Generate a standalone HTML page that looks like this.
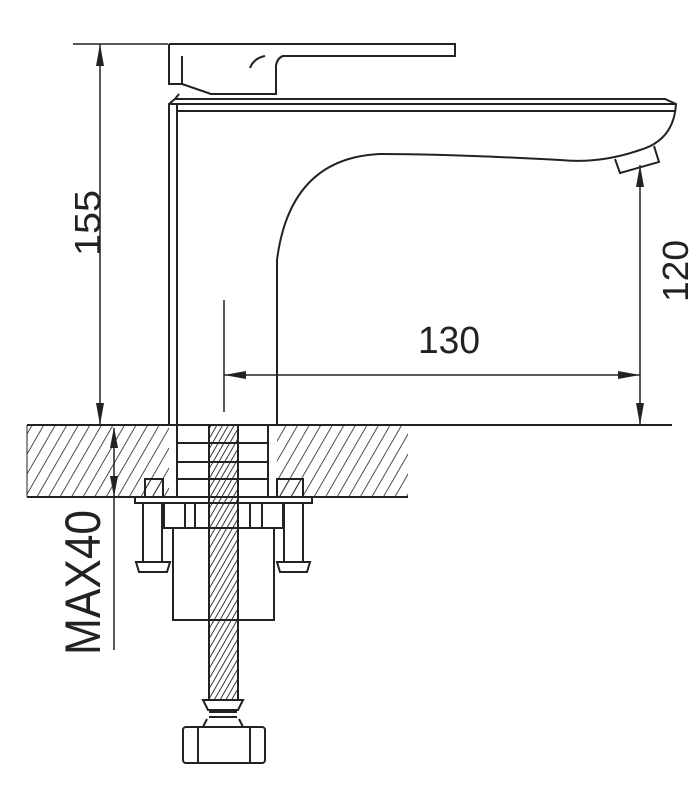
<!DOCTYPE html>
<html><head><meta charset="utf-8"><style>
html,body{margin:0;padding:0;background:#fff;}
svg{display:block;}
text{font-family:"Liberation Sans",sans-serif;fill:#222;}
</style></head><body>
<svg width="700" height="787" viewBox="0 0 700 787" xmlns="http://www.w3.org/2000/svg">
<defs>
<pattern id="h" patternUnits="userSpaceOnUse" width="10" height="10" patternTransform="rotate(30)">
<line x1="0" y1="0" x2="0" y2="10" stroke="#222" stroke-width="1.6"/>
</pattern>
<pattern id="t" patternUnits="userSpaceOnUse" width="5" height="5" patternTransform="rotate(30)">
<line x1="0" y1="0" x2="0" y2="5" stroke="#222" stroke-width="1.8"/>
</pattern>
</defs>
<g fill="none" stroke="#222" stroke-width="2">
<!-- counter hatch -->
<rect x="27" y="425" width="142" height="72" fill="url(#h)" stroke="none"/>
<rect x="277" y="425" width="131" height="72" fill="url(#h)" stroke="none"/>
<line x1="27" y1="425" x2="672" y2="425"/>
<line x1="27" y1="497" x2="408" y2="497"/>
<line x1="27" y1="425" x2="27" y2="497" stroke-width="1"/>
<!-- handle -->
<path d="M169 44 H455 V56 H283 Q277 58 276 66 V94 H211 L182 84 V56 M169 44 V84 L182 84"/>
<path d="M250 68 Q254 58 265 56"/>
<line x1="179" y1="94" x2="175" y2="99"/>
<!-- body -->
<path d="M169 425 V104 L175 99 H665 L676 104 Q674 140 640 150 Q600 164 560 160 Q450 154 380 154 Q290 158 277 260 V425"/>
<line x1="169" y1="104" x2="676" y2="104"/>
<line x1="177" y1="111" x2="675" y2="111"/>
<line x1="177" y1="104" x2="177" y2="425"/>
<path d="M615 159 L620 173 L659 162 L654 146"/>
<!-- under counter -->
<line x1="177" y1="443" x2="268" y2="443"/>
<line x1="177" y1="462" x2="268" y2="462"/>
<line x1="177" y1="479" x2="268" y2="479"/>
<line x1="177" y1="425" x2="177" y2="497"/>
<line x1="268" y1="425" x2="268" y2="497"/>
<rect x="145" y="479" width="18" height="18" fill="url(#h)"/>
<rect x="277" y="479" width="26" height="18" fill="url(#h)"/>
<rect x="135" y="497" width="177" height="6"/>
<rect x="164" y="503" width="119" height="25"/>
<line x1="185" y1="503" x2="185" y2="528"/><line x1="195" y1="503" x2="195" y2="528"/>
<line x1="250" y1="503" x2="250" y2="528"/><line x1="262" y1="503" x2="262" y2="528"/>
<rect x="173" y="528" width="101" height="92"/>
<path d="M143 503 V562 M162 503 V562 M136 562 H170 L167 572 H139 Z"/>
<path d="M284 503 V562 M303 503 V562 M277 562 H310 L307 572 H280 Z"/>
<!-- rod -->
<rect x="209" y="425" width="29" height="275" fill="url(#t)"/>
<path d="M203 700 H243 L238 710 H208 Z"/>
<path d="M209 712 H237 M209 717 H237 M207 719 L203 727 M239 719 L243 727"/>
<rect x="183" y="727" width="82" height="36" rx="3"/>
<line x1="198" y1="727" x2="198" y2="763"/><line x1="250" y1="727" x2="250" y2="763"/>
<!-- dimensions -->
<g stroke-width="1.5">
<line x1="73" y1="44" x2="168" y2="44"/>
<line x1="100" y1="44" x2="100" y2="425"/>
<line x1="640" y1="165" x2="640" y2="425"/>
<line x1="224" y1="300" x2="224" y2="412"/>
<line x1="224" y1="375" x2="640" y2="375"/>
<line x1="114" y1="428" x2="114" y2="650"/>
</g>
</g>
<g fill="#222">
<path d="M100 44 L96 66 L104 66 Z"/><path d="M100 425 L96 403 L104 403 Z"/>
<path d="M640 165 L636 187 L644 187 Z"/><path d="M640 425 L636 403 L644 403 Z"/>
<path d="M224 375 L246 371 L246 379 Z"/><path d="M640 375 L618 371 L618 379 Z"/>
<path d="M114 427 L110 448 L118 448 Z"/><path d="M114 497 L110 476 L118 476 Z"/>
</g>
<text x="0" y="0" font-size="36" textLength="66" lengthAdjust="spacingAndGlyphs" transform="translate(100 256) rotate(-90)">155</text>
<text x="0" y="0" font-size="36" textLength="62" lengthAdjust="spacingAndGlyphs" transform="translate(688 302) rotate(-90)">120</text>
<text x="418" y="353" font-size="38" textLength="62" lengthAdjust="spacingAndGlyphs">130</text>
<text x="0" y="0" font-size="50" textLength="145" lengthAdjust="spacingAndGlyphs" transform="translate(100 655) rotate(-90)">MAX40</text>
</svg>
</body></html>
